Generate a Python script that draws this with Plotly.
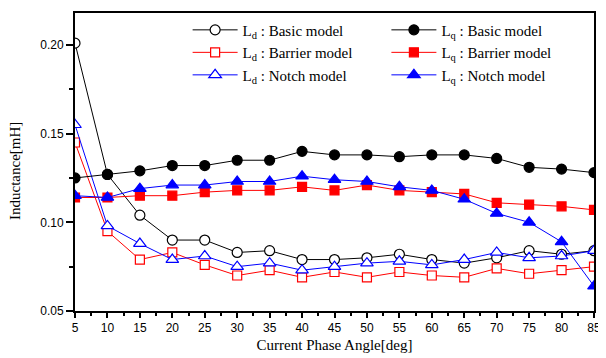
import plotly.graph_objects as go

angles = [5, 10, 15, 20, 25, 30, 35, 40, 45, 50, 55, 60, 65, 70, 75, 80, 85]

ld_basic = [0.201, 0.127, 0.104, 0.090, 0.090, 0.083, 0.084, 0.079, 0.079, 0.080, 0.082, 0.079, 0.077, 0.080, 0.084, 0.082, 0.084]
lq_basic = [0.125, 0.127, 0.129, 0.132, 0.132, 0.135, 0.135, 0.140, 0.138, 0.138, 0.137, 0.138, 0.138, 0.136, 0.131, 0.130, 0.128]
ld_barrier = [0.145, 0.095, 0.079, 0.083, 0.076, 0.070, 0.073, 0.069, 0.072, 0.069, 0.072, 0.070, 0.069, 0.074, 0.071, 0.073, 0.075]
lq_barrier = [0.114, 0.114, 0.115, 0.115, 0.117, 0.118, 0.118, 0.120, 0.118, 0.121, 0.118, 0.117, 0.116, 0.111, 0.110, 0.109, 0.107]
ld_notch = [0.155, 0.098, 0.088, 0.079, 0.081, 0.075, 0.077, 0.073, 0.075, 0.077, 0.078, 0.076, 0.079, 0.083, 0.080, 0.081, 0.084]
lq_notch = [0.115, 0.114, 0.119, 0.121, 0.121, 0.123, 0.123, 0.126, 0.124, 0.123, 0.120, 0.118, 0.113, 0.105, 0.100, 0.089, 0.064]

names = {
    "ld_basic": "L<sub>d</sub> : Basic model",
    "lq_basic": "L<sub>q</sub> : Basic model",
    "ld_barrier": "L<sub>d</sub> : Barrier model",
    "lq_barrier": "L<sub>q</sub> : Barrier model",
    "ld_notch": "L<sub>d</sub> : Notch model",
    "lq_notch": "L<sub>q</sub> : Notch model",
}

x_ticks = [5, 10, 15, 20, 25, 30, 35, 40, 45, 50, 55, 60, 65, 70, 75, 80, 85]
y_ticks = [0.05, 0.10, 0.15, 0.20]
y_tick_text = ["0.05", "0.10", "0.15", "0.20"]

fig = go.Figure()

def add(y, name, color, symbol, size, filled, legend):
    fig.add_trace(go.Scatter(
        x=angles, y=y, name=name, mode="lines+markers",
        line=dict(color=color, width=1),
        marker=dict(symbol=symbol, size=size, color=color if filled else "white",
                    line=dict(color=color, width=1.2)),
        legend=legend,
    ))

add(ld_basic, names["ld_basic"], "black", "circle", 10, False, "legend")
add(ld_barrier, names["ld_barrier"], "red", "square", 9, False, "legend")
add(ld_notch, names["ld_notch"], "blue", "triangle-up", 11, False, "legend")
add(lq_basic, names["lq_basic"], "black", "circle", 10, True, "legend2")
add(lq_barrier, names["lq_barrier"], "red", "square", 9, True, "legend2")
add(lq_notch, names["lq_notch"], "blue", "triangle-up", 11, True, "legend2")

serif = "Times New Roman, Liberation Serif, serif"
sans = "Arial, Liberation Sans, sans-serif"

legend_common = dict(
    font=dict(family=serif, size=15, color="black"),
    bgcolor="rgba(0,0,0,0)", borderwidth=0,
    yanchor="top", xanchor="left", tracegroupgap=0, itemwidth=45,
)

fig.update_layout(
    width=596, height=347,
    margin=dict(l=67, r=7, t=3, b=44),
    paper_bgcolor="white", plot_bgcolor="white",
    showlegend=True,
    legend=dict(x=0.217, y=0.998, **legend_common),
    legend2=dict(x=0.60, y=0.998, **legend_common),
    xaxis=dict(
        range=[5, 85], tickmode="array", tickvals=x_ticks,
        ticks="outside", ticklen=5, tickwidth=1.5, tickcolor="black",
        showline=True, linecolor="black", linewidth=2, mirror=True,
        showgrid=False, zeroline=False,
        tickfont=dict(family=sans, size=12, color="black"),
        minor=dict(dtick=2.5, tick0=5, ticks="outside", ticklen=3, tickwidth=1.5, tickcolor="black", showgrid=False),
        title=dict(text="Current Phase Angle[deg]", font=dict(family=serif, size=15, color="black"), standoff=5),
    ),
    yaxis=dict(
        range=[0.05, 0.218], tickmode="array", tickvals=y_ticks, ticktext=y_tick_text,
        ticks="outside", ticklen=7, tickwidth=1.5, tickcolor="black",
        showline=True, linecolor="black", linewidth=2, mirror=True,
        showgrid=False, zeroline=False,
        tickfont=dict(family=sans, size=12, color="black"),
        minor=dict(dtick=0.025, tick0=0.05, ticks="outside", ticklen=4, tickwidth=1.5, tickcolor="black", showgrid=False),
    ),
    annotations=[dict(
        text="Inductance[mH]", xref="paper", yref="paper", x=0, y=0.5,
        xanchor="center", yanchor="middle", xshift=-60, yshift=-9, textangle=-90,
        showarrow=False, font=dict(family=serif, size=15, color="black"),
    )],
)

fig.write_html("out.html")
